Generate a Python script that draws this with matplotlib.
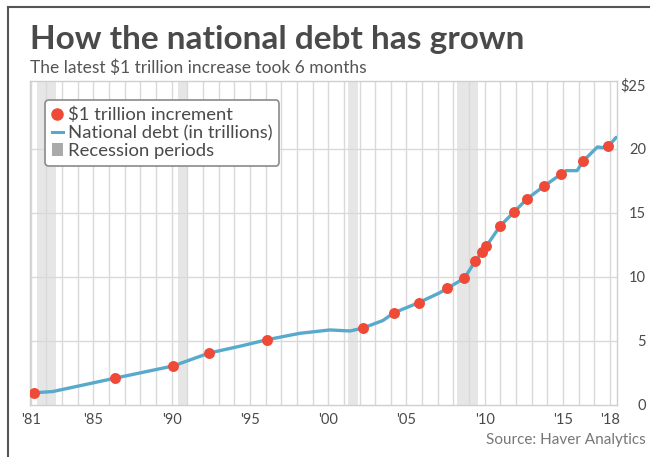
import matplotlib
matplotlib.use("Agg")
import matplotlib.pyplot as plt
from matplotlib.lines import Line2D
from matplotlib.patches import Patch

# ── Data ─────────────────────────────────────────────────────────────────────
debt_years = [1981.2, 1982.4, 1986.4, 1990.1, 1992.4, 1994.4, 1996.1, 1998.2,
              2000.1, 2001.4, 2002.2, 2003.5, 2004.2, 2005.8, 2007.1, 2007.6,
              2008.7, 2009.4, 2010.1, 2011.0, 2011.9, 2012.7, 2013.8, 2014.9,
              2015.2, 2015.9, 2016.3, 2017.2, 2017.5, 2017.9, 2018.4]
debt_values = [0.95, 1.05, 2.1, 3.05, 4.06, 4.6, 5.1, 5.6,
               5.86, 5.78, 6.0, 6.6, 7.2, 8.0, 8.75, 9.1,
               9.9, 11.25, 12.4, 14.0, 15.1, 16.1, 17.1, 18.05,
               18.3, 18.3, 19.06, 20.15, 20.1, 20.2, 20.9]

dot_years = [1981.2, 1986.4, 1990.1, 1992.4, 1996.1, 2002.2, 2004.2, 2005.8,
             2007.6, 2008.7, 2009.4, 2009.8, 2010.1, 2011.0, 2011.9, 2012.7,
             2013.8, 2014.9, 2016.3, 2017.9]
dot_values = [0.95, 2.1, 3.05, 4.06, 5.08, 6.0, 7.2, 8.0,
              9.1, 9.9, 11.25, 11.95, 12.4, 14.0, 15.1, 16.1,
              17.1, 18.05, 19.06, 20.2]

recessions = [(1981.4, 1982.6), (1990.4, 1991.0), (2001.25, 2001.9), (2008.2, 2009.55)]

xtick_years = [1981, 1985, 1990, 1995, 2000, 2005, 2010, 2015, 2018]
xtick_labels = ["'81", "'85", "'90", "'95", "'00", "'05", "'10", "'15", "'18"]
ytick_values = [0, 5, 10, 15, 20, 25]
ytick_labels = ["0", "5", "10", "15", "20", "$25"]

RED = "#ef4a38"
BLUE = "#58aacd"
GRID = "#d9d9d9"
SHADE = "#e6e6e6"
TEXT = "#4a4a4a"

plt.rcParams["font.family"] = ["Lato", "DejaVu Sans"]

fig = plt.figure(figsize=(6.5, 4.57), dpi=100)
ax = fig.add_axes([30 / 650, 52 / 457, 587 / 650, 324 / 457])

for start, end in recessions:
    ax.axvspan(start, end, color=SHADE, lw=0, zorder=0)

for yr in range(1981, 2019):
    ax.axvline(yr, color=GRID, lw=1, zorder=1)
for v in ytick_values[1:-1]:
    ax.axhline(v, color=GRID, lw=1, zorder=1)

ax.plot(debt_years, debt_values, color=BLUE, lw=2.4, zorder=3,
        solid_capstyle="round")
ax.scatter(dot_years, dot_values, s=62, color=RED, zorder=4, linewidths=0)

ax.set_xlim(1980.95, 2018.45)
ax.set_ylim(0, 25.3)

ax.set_xticks(xtick_years)
ax.set_xticklabels(xtick_labels)
ax.yaxis.tick_right()
ax.set_yticks(ytick_values)
ax.set_yticklabels(ytick_labels)
ax.tick_params(axis="both", length=0, labelsize=10.5, colors=TEXT)
ax.tick_params(axis="x", pad=6)
ax.tick_params(axis="y", pad=21)
for lab in ax.get_yticklabels():
    lab.set_horizontalalignment("right")

for sp in ax.spines.values():
    sp.set_color("#cfcfcf")
    sp.set_linewidth(1)

handles = [
    Line2D([], [], marker="o", color=RED, lw=0, markersize=8),
    Line2D([], [], color=BLUE, lw=2.2),
    Patch(facecolor="#aaaaaa", edgecolor="none"),
]
labels = ["$1 trillion increment", "National debt (in trillions)", "Recession periods"]
leg = ax.legend(handles, labels, loc="upper left", bbox_to_anchor=(0.026, 0.94),
                fontsize=13.3, frameon=True, fancybox=True, framealpha=1,
                edgecolor="#8a8a8a", handlelength=0.6, handletextpad=0.3,
                labelspacing=0.1, borderpad=0.35, borderaxespad=0,
                labelcolor=TEXT)
leg.get_frame().set_linewidth(1.2)
leg.set_zorder(6)

fig.text(30 / 650, 1 - 40 / 457, "How the national debt has grown",
         fontsize=24, fontweight="bold", color=TEXT, va="center", ha="left")
fig.text(30 / 650, 1 - 68 / 457, "The latest $1 trillion increase took 6 months",
         fontsize=12.5, color="#555555", va="center", ha="left")
fig.text(646 / 650, 1 - 440 / 457, "Source: Haver Analytics",
         fontsize=11, color="#777777", va="center", ha="right")

# card border on the left and top
fig.add_artist(Line2D([8 / 650, 8 / 650], [0, 1 - 7 / 457], color="#555555", lw=1.5))
fig.add_artist(Line2D([8 / 650, 1], [1 - 7 / 457, 1 - 7 / 457], color="#555555", lw=1.5))

fig.savefig("out.png", dpi=100)
